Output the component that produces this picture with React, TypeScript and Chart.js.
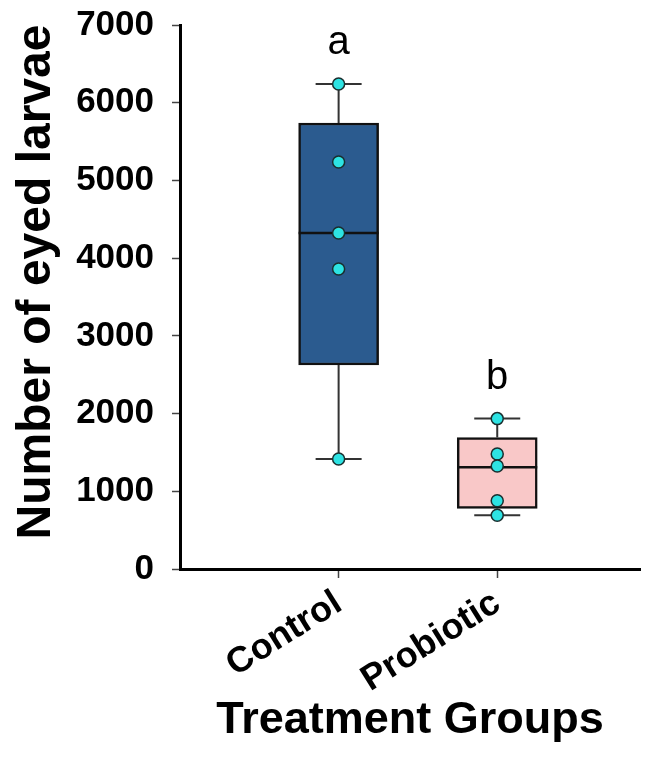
import React, { useEffect, useRef } from "react";
import { Chart, registerables } from "chart.js";

Chart.register(...registerables);

const categories = ["Control", "Probiotic"];
const whiskerLow = [1416, 692];
const q1 = [2625, 778];
const median = [4324, 1308];
const q3 = [5739, 1692];
const whiskerHigh = [6241, 1935];
const controlPoints = [6241, 5237, 4324, 3860, 1416];
const probioticPoints = [1935, 1480, 1325, 879, 692];
const letters = ["a", "b"];
const yTicks = [0, 1000, 2000, 3000, 4000, 5000, 6000, 7000];
const boxColors = ["#2B5B8F", "#F9C8C8"];
const yTitle = "Number of eyed larvae";
const xTitle = "Treatment Groups";

const FONT = "'Liberation Sans', Arial, Helvetica, sans-serif";

const boxPlugin = {
  id: "boxExtras",
  afterDatasetDraw(chart: any, args: any) {
    if (args.index !== 1) return;
    const ctx = chart.ctx;
    const xs = chart.scales.x;
    const ys = chart.scales.y;
    ctx.save();
    categories.forEach((_, i) => {
      const cx = xs.getPixelForValue(i + 1);
      const half = 40;
      const cap = 23;
      ctx.strokeStyle = "#333333";
      ctx.lineWidth = 2;
      ctx.beginPath();
      ctx.moveTo(cx, ys.getPixelForValue(q3[i]));
      ctx.lineTo(cx, ys.getPixelForValue(whiskerHigh[i]));
      ctx.moveTo(cx, ys.getPixelForValue(q1[i]));
      ctx.lineTo(cx, ys.getPixelForValue(whiskerLow[i]));
      ctx.moveTo(cx - cap, ys.getPixelForValue(whiskerHigh[i]));
      ctx.lineTo(cx + cap, ys.getPixelForValue(whiskerHigh[i]));
      ctx.moveTo(cx - cap, ys.getPixelForValue(whiskerLow[i]));
      ctx.lineTo(cx + cap, ys.getPixelForValue(whiskerLow[i]));
      ctx.stroke();
      ctx.strokeStyle = "#111111";
      ctx.lineWidth = 2.5;
      ctx.beginPath();
      ctx.moveTo(cx - half, ys.getPixelForValue(median[i]));
      ctx.lineTo(cx + half, ys.getPixelForValue(median[i]));
      ctx.stroke();
    });
    ctx.restore();
  },
  afterDraw(chart: any) {
    const ctx = chart.ctx;
    const xs = chart.scales.x;
    const ys = chart.scales.y;
    ctx.save();
    ctx.fillStyle = "#000";
    ctx.font = `40px ${FONT}`;
    ctx.textAlign = "center";
    ctx.textBaseline = "alphabetic";
    letters.forEach((l, i) => {
      ctx.fillText(l, xs.getPixelForValue(i + 1), ys.getPixelForValue(whiskerHigh[i]) - 30);
    });
    // y axis title
    const ca = chart.chartArea;
    ctx.translate(50, (ca.top + ca.bottom) / 2 - 15);
    ctx.rotate(-Math.PI / 2);
    ctx.font = `bold 48px ${FONT}`;
    ctx.fillText(yTitle, 0, 0);
    ctx.restore();
  },
};

export default function App() {
  const ref = useRef<HTMLCanvasElement>(null);
  useEffect(() => {
    if (!ref.current) return;
    const pts = [
      ...controlPoints.map((v) => ({ x: 1, y: v })),
      ...probioticPoints.map((v) => ({ x: 2, y: v })),
    ];
    const chart = new Chart(ref.current, {
      type: "bar",
      data: {
        datasets: [
          {
            type: "scatter",
            data: pts,
            order: 0,
            pointRadius: 6,
            pointBackgroundColor: "#2DE3E3",
            pointBorderColor: "#1A2E2E",
            pointBorderWidth: 1.5,
            showLine: false,
          } as any,
          {
            type: "bar",
            data: categories.map((_, i) => ({ x: i + 1, y: [q1[i], q3[i]] })),
            order: 1,
            backgroundColor: boxColors,
            borderColor: "#111111",
            borderWidth: 2.5,
            borderSkipped: false,
            barThickness: 80,
            grouped: false,
          } as any,
        ],
      },
      options: {
        animation: false,
        responsive: true,
        maintainAspectRatio: false,
        layout: { padding: { top: 25, right: 14, left: 0, bottom: 0 } },
        plugins: { legend: { display: false }, tooltip: { enabled: false } },
        scales: {
          x: {
            type: "linear",
            min: 0,
            max: 2.9,
            offset: false,
            afterBuildTicks: (s: any) => {
              s.ticks = categories.map((_, i) => ({ value: i + 1 }));
            },
            afterFit: (s: any) => {
              s.height = 190;
              s.paddingLeft = 0;
              s.paddingRight = 0;
            },
            ticks: {
              minRotation: 32,
              maxRotation: 32,
              autoSkip: false,
              padding: 4,
              color: "#000",
              font: { family: FONT, size: 36, weight: "bold" },
              callback: (v: any) => categories[Number(v) - 1] ?? "",
            },
            grid: {
              offset: false,
              drawOnChartArea: false,
              drawTicks: true,
              tickLength: 9,
              tickWidth: 1.5,
              tickColor: "#444",
            },
            border: { display: true, width: 3, color: "#000" },
            title: {
              display: true,
              text: xTitle,
              color: "#000",
              font: { family: FONT, size: 45, weight: "bold" },
              padding: { top: 4, bottom: 11 },
            },
          },
          y: {
            type: "linear",
            min: 0,
            max: 7000,
            afterBuildTicks: (s: any) => {
              s.ticks = yTicks.map((v) => ({ value: v }));
            },
            afterFit: (s: any) => {
              s.width = 180;
              s.paddingTop = 0;
              s.paddingBottom = 0;
            },
            ticks: {
              padding: 18,
              color: "#000",
              font: { family: FONT, size: 35, weight: "bold" },
              callback: (v: any) => String(v),
            },
            grid: {
              drawOnChartArea: false,
              drawTicks: true,
              tickLength: 8,
              tickWidth: 1.5,
              tickColor: "#444",
            },
            border: { display: true, width: 3, color: "#000" },
          },
        },
      },
      plugins: [boxPlugin],
    });
    return () => chart.destroy();
  }, []);
  return (
    <div style={{ position: "fixed", left: 0, top: 0, width: 654, height: 759, background: "#fff" }}>
      <canvas ref={ref} />
    </div>
  );
}
